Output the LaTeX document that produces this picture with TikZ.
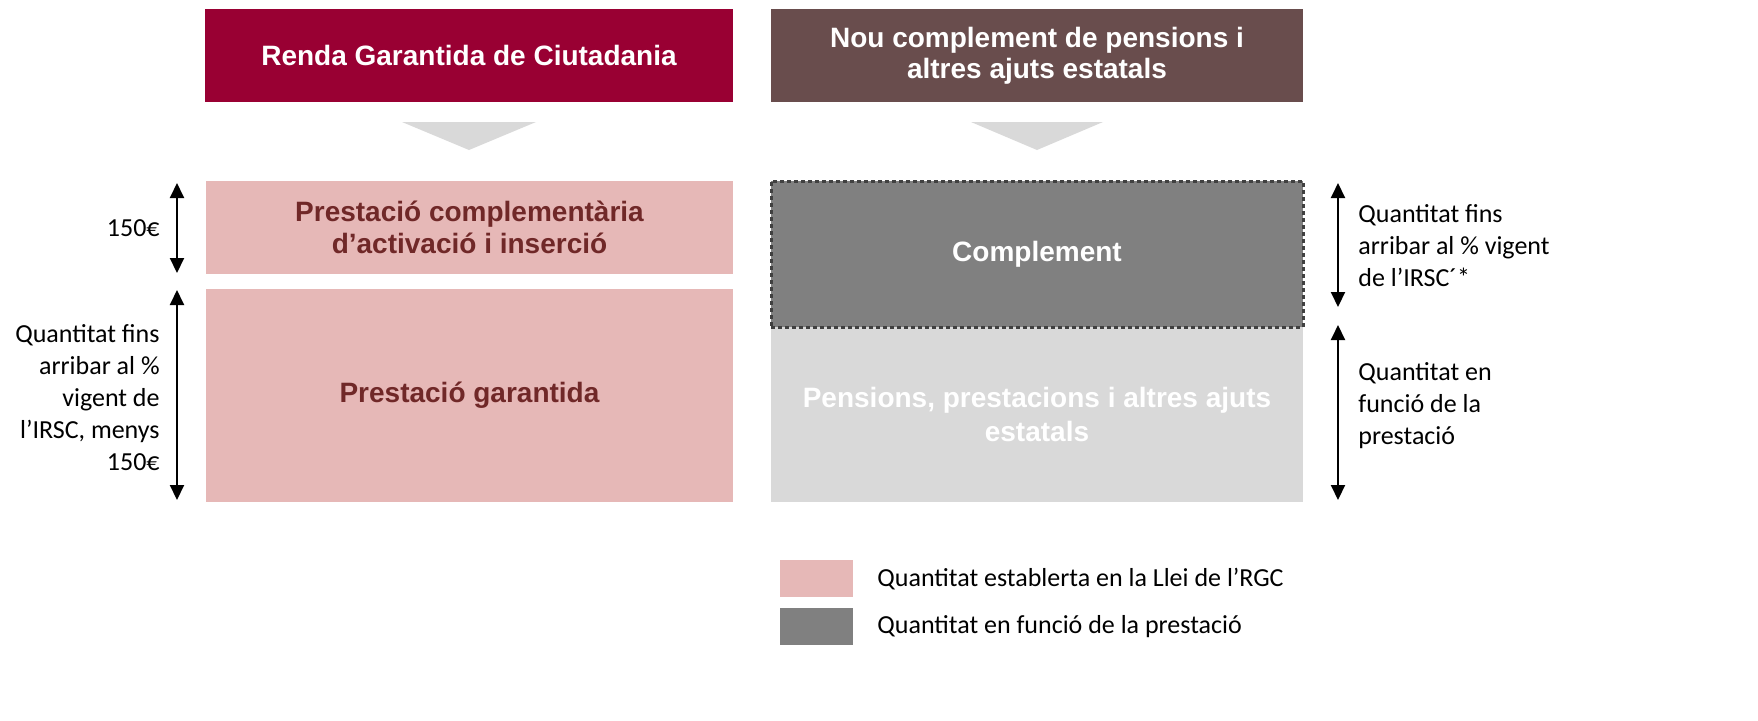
\documentclass[tikz,border=0pt]{standalone}
\usepackage{fontspec}
\setmainfont{Carlito}
\newfontfamily\headfont{Liberation Sans}
\usetikzlibrary{arrows.meta,calc}
\definecolor{rgcred}{HTML}{990033}
\definecolor{brownhead}{HTML}{694D4D}
\definecolor{pinkfill}{HTML}{E6B8B7}
\definecolor{darktext}{HTML}{702828}
\definecolor{midgray}{HTML}{808080}
\definecolor{lightgray}{HTML}{D9D9D9}
\definecolor{bordergray}{HTML}{404040}
\tikzset{
  headbox/.style={minimum width=264pt, minimum height=46.5pt, inner sep=0pt, align=center,
    text=white, font=\headfont\bfseries\fontsize{14}{15.5}\selectfont},
  pinkbox/.style={fill=pinkfill, minimum width=263.5pt, inner sep=0pt, align=center,
    text=darktext, font=\headfont\bfseries\fontsize{14}{16}\selectfont},
  graybox/.style={minimum width=266pt, inner sep=0pt, align=center,
    text=white, font=\headfont\bfseries\fontsize{14}{17}\selectfont},
  bodytext/.style={inner sep=0pt, font=\fontsize{13}{16}\selectfont},
  dimarr/.style={line width=1pt, {Triangle[width=7pt,length=7.5pt]}-{Triangle[width=7pt,length=7.5pt]}},
  swatch/.style={minimum width=36.5pt, minimum height=18.5pt, inner sep=0pt},
  downtri/.style={fill=lightgray}
}
\begin{document}
\begin{tikzpicture}[x=0.5pt,y=-0.5pt]
\useasboundingbox (0,0) rectangle (1758,720);
% headers
\node[headbox, fill=rgcred] (h1) at (469,55.5) {Renda Garantida de Ciutadania};
\node[headbox, fill=brownhead, minimum width=266pt] (h2) at (1037,55.5) {Nou complement de pensions i\\altres ajuts estatals};
% triangles
\fill[downtri] (402,122) -- (536,122) -- (469,150) -- cycle;
\fill[downtri] (971,122) -- (1103,122) -- (1037,150) -- cycle;
% left column
\node[pinkbox, minimum height=46.5pt] (p1) at (469.5,227.5) {Prestació complementària\\d’activació i inserció};
\node[pinkbox, minimum height=106.5pt] (p2) at (469.5,395.5) {Prestació garantida};
% right column
\node[graybox, fill=lightgray, minimum height=87.5pt] (g2) at (1037,414.5) {Pensions, prestacions i altres ajuts\\estatals};
\node[graybox, fill=midgray, minimum height=73pt, draw=bordergray, line width=1.5pt,
      dash pattern=on 2pt off 1.5pt] (g1) at (1037,254) {Complement};
% left dimension arrows
\coordinate (la1) at (177,183);
\coordinate (lb1) at (177,273);
\coordinate (la2) at (177,290);
\coordinate (lb2) at (177,500);
\draw[dimarr] (la1) -- (lb1);
\draw[dimarr] (la2) -- (lb2);
\node[bodytext, anchor=east, align=right] (lt1) at (160,228) {150€};
\node[bodytext, anchor=east, align=right] (lt2) at (160,398) {Quantitat fins\\arribar al \%\\vigent de\\l’IRSC, menys\\150€};
% right dimension arrows
\coordinate (ra1) at (1338,183);
\coordinate (rb1) at (1338,307);
\coordinate (ra2) at (1338,325);
\coordinate (rb2) at (1338,500);
\draw[dimarr] (ra1) -- (rb1);
\draw[dimarr] (ra2) -- (rb2);
\node[bodytext, anchor=west, align=left] (rt1) at (1358,246) {Quantitat fins\\arribar al \% vigent\\de l’IRSC´*};
\node[bodytext, anchor=west, align=left] (rt2) at (1358,406) {Quantitat en\\funció de la\\prestació};
% legend
\node[swatch, fill=pinkfill] (s1) at (816.5,578.5) {};
\node[swatch, fill=midgray] (s2) at (816.5,626.5) {};
\node[bodytext, anchor=west] (st1) at (877,579) {Quantitat establerta en la Llei de l’RGC};
\node[bodytext, anchor=west] (st2) at (877,627) {Quantitat en funció de la prestació};
\end{tikzpicture}
\end{document}
